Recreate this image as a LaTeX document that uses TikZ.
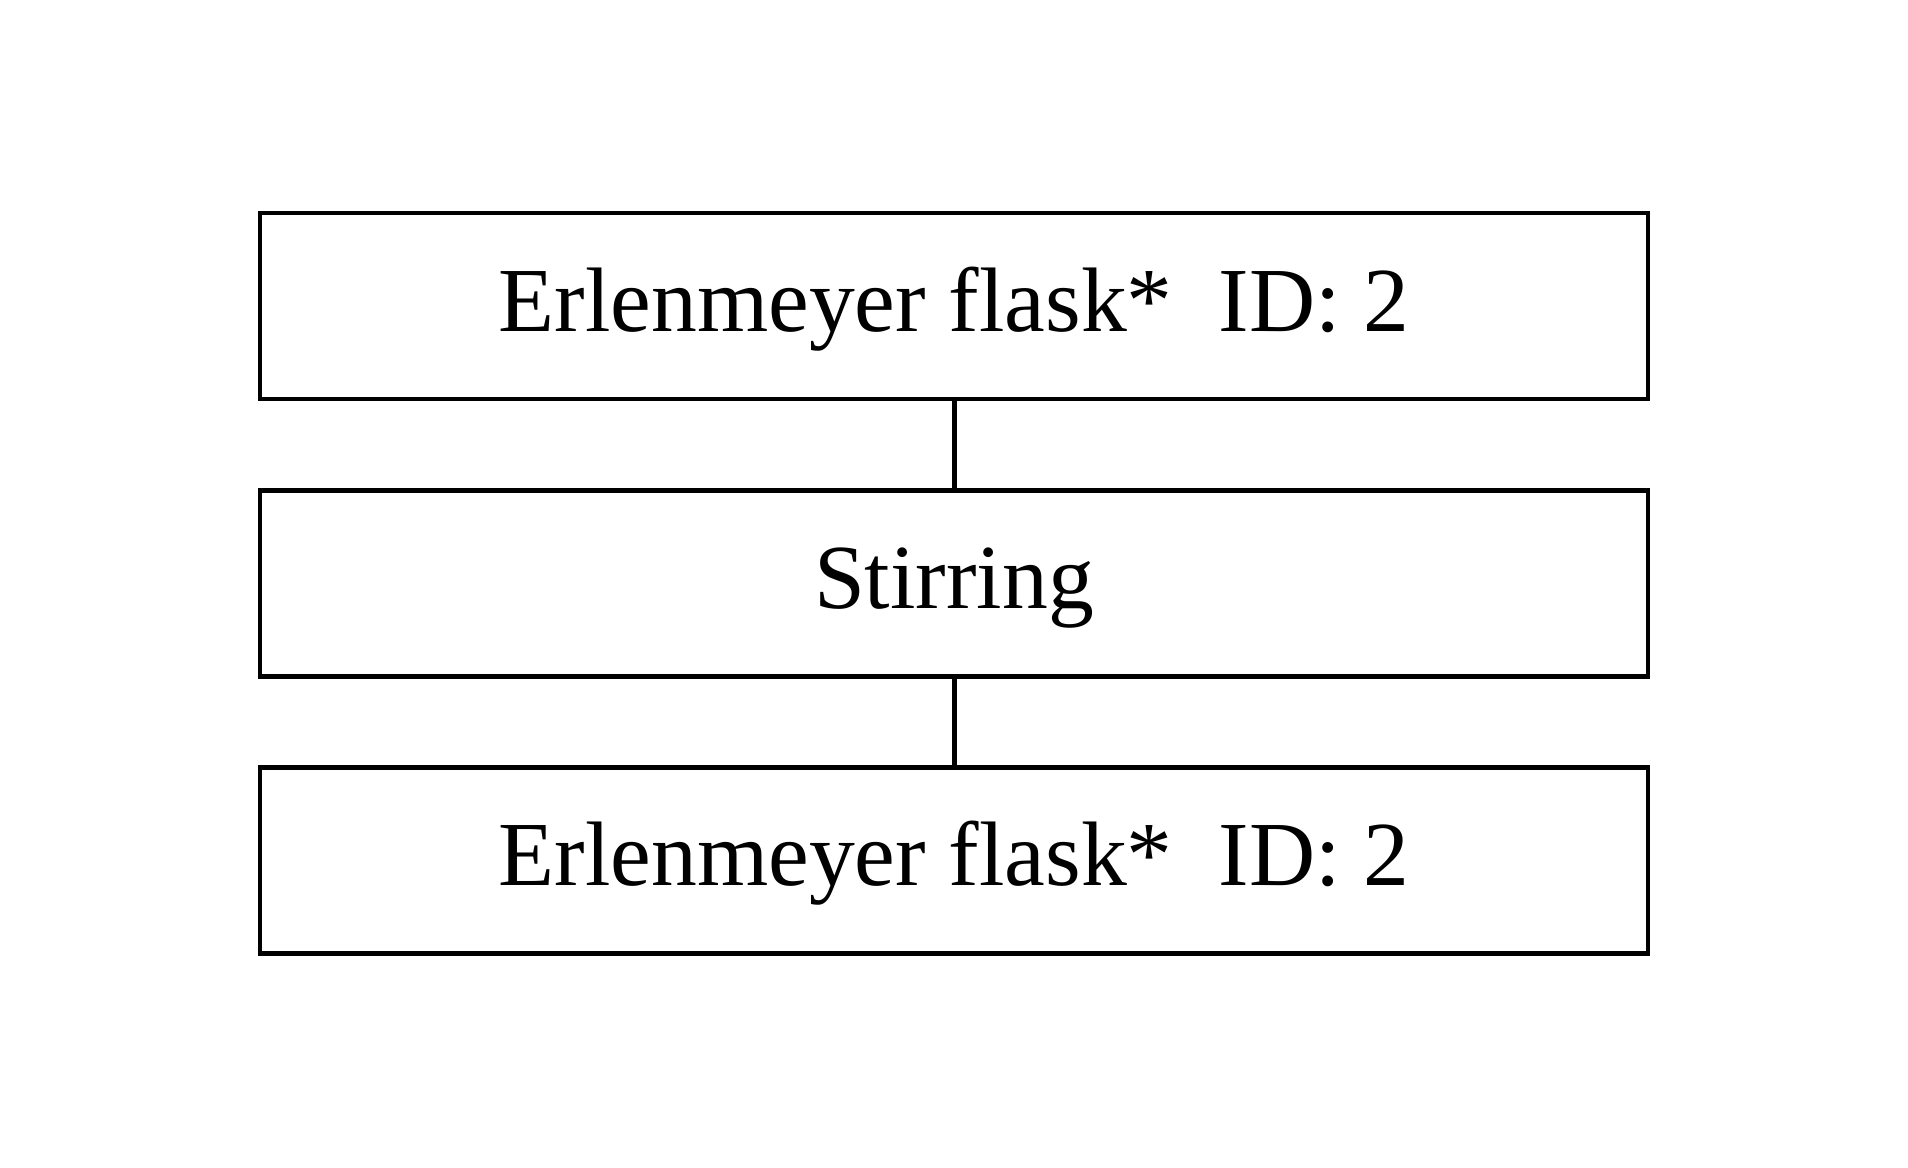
\documentclass[tikz,border=0pt]{standalone}
\usepackage{fontspec}
\setmainfont{Liberation Serif}
\begin{document}
\begin{tikzpicture}[x=0.5pt,y=-0.5pt,
  stepbox/.style={draw=black,line width=2.3pt,minimum width=694pt,minimum height=93pt,
    inner sep=0pt,text height=35pt,text depth=10pt,font=\fontsize{45.8}{55}\selectfont},
  link/.style={line width=2.5pt}]
\useasboundingbox[fill=white] (0,0) rectangle (1908,1168);
\node[stepbox] (a) at (954,306) {Erlenmeyer flask*\ \ ID: 2};
\node[stepbox] (b) at (954,583.5) {Stirring};
\node[stepbox] (c) at (954,860.5) {Erlenmeyer flask*\ \ ID: 2};
\draw[link] (a.south) -- (b.north);
\draw[link] (b.south) -- (c.north);
\end{tikzpicture}
\end{document}
